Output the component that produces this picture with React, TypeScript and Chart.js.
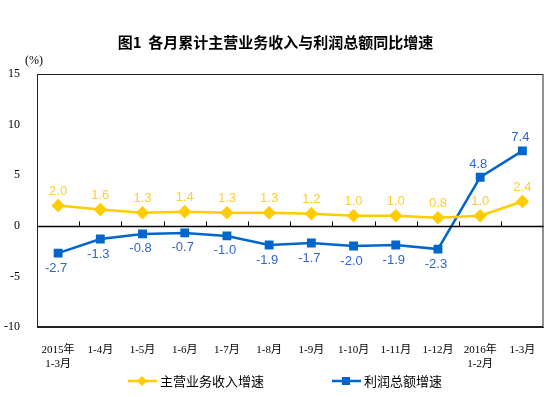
import React, { useEffect, useRef } from "react";
import { Chart, registerables } from "chart.js";

Chart.register(...registerables);

const categories: (string | string[])[] = [
  ["2015年", "1-3月"], "1-4月", "1-5月", "1-6月", "1-7月", "1-8月",
  "1-9月", "1-10月", "1-11月", "1-12月", ["2016年", "1-2月"], "1-3月",
];
const revenueGrowth = [2.0, 1.6, 1.3, 1.4, 1.3, 1.3, 1.2, 1.0, 1.0, 0.8, 1.0, 2.4];
const profitGrowth = [-2.7, -1.3, -0.8, -0.7, -1.0, -1.9, -1.7, -2.0, -1.9, -2.3, 4.8, 7.4];
const seriesNames = ["主营业务收入增速", "利润总额增速"];
const titleText = "图1  各月累计主营业务收入与利润总额同比增速";
const yUnit = "(%)";

const YELLOW = "#FFCC00";
const YELLOW_LABEL = "#FFCC33";
const BLUE = "#0066CC";
const BLUE_LABEL = "#3366CC";

const decorPlugin = {
  id: "decor",
  afterDraw(chart: any) {
    const ctx = chart.ctx as CanvasRenderingContext2D;
    const { left, right, top, bottom } = chart.chartArea;
    const x = chart.scales.x;
    const y = chart.scales.y;
    ctx.save();
    // frame
    ctx.strokeStyle = "#222";
    ctx.lineWidth = 1;
    ctx.strokeRect(left + 0.5, top + 0.5, right - left - 1, bottom - top - 1);
    // zero line
    const y0 = Math.round(y.getPixelForValue(0)) + 0.5;
    ctx.lineWidth = 1.5;
    ctx.strokeStyle = "#000";
    ctx.beginPath();
    ctx.moveTo(left, y0);
    ctx.lineTo(right, y0);
    ctx.stroke();
    // category ticks on zero line
    ctx.lineWidth = 1;
    const n = categories.length;
    for (let i = 1; i < n; i++) {
      const px = Math.round((x.getPixelForValue(i - 1) + x.getPixelForValue(i)) / 2) + 0.5;
      ctx.beginPath();
      ctx.moveTo(px, y0);
      ctx.lineTo(px, y0 - 5);
      ctx.stroke();
    }
    // title
    ctx.fillStyle = "#000";
    ctx.font = "bold 15px 'Noto Sans CJK SC'";
    ctx.textAlign = "center";
    ctx.textBaseline = "middle";
    ctx.fillText(titleText, chart.width / 2, 42);
    // unit
    ctx.font = "12px 'Liberation Serif'";
    ctx.fillText(yUnit, 34, 61);

    // data labels
    ctx.font = "13px 'Liberation Sans'";
    const m0 = chart.getDatasetMeta(0);
    const m1 = chart.getDatasetMeta(1);
    m0.data.forEach((p: any, i: number) => {
      ctx.fillStyle = YELLOW_LABEL;
      ctx.fillText(revenueGrowth[i].toFixed(1), p.x, p.y - 14);
    });
    m1.data.forEach((p: any, i: number) => {
      ctx.fillStyle = BLUE_LABEL;
      const v = profitGrowth[i];
      if (v >= 0) {
        ctx.fillText(v.toFixed(1), p.x - 2, p.y - 13);
      } else {
        ctx.fillText(v.toFixed(1), p.x - 2, p.y + 15);
      }
    });

    // legend
    const ly = 381;
    ctx.lineWidth = 2.5;
    ctx.strokeStyle = YELLOW;
    ctx.beginPath();
    ctx.moveTo(128, ly);
    ctx.lineTo(157, ly);
    ctx.stroke();
    ctx.fillStyle = YELLOW;
    ctx.beginPath();
    ctx.moveTo(142, ly - 5);
    ctx.lineTo(147, ly);
    ctx.lineTo(142, ly + 5);
    ctx.lineTo(137, ly);
    ctx.closePath();
    ctx.fill();
    ctx.strokeStyle = BLUE;
    ctx.beginPath();
    ctx.moveTo(332, ly);
    ctx.lineTo(361, ly);
    ctx.stroke();
    ctx.fillStyle = BLUE;
    ctx.fillRect(342, ly - 4, 8, 8);
    ctx.fillStyle = "#000";
    ctx.font = "13px 'Noto Sans CJK SC'";
    ctx.textAlign = "left";
    ctx.fillText(seriesNames[0], 160, ly);
    ctx.fillText(seriesNames[1], 364, ly);
    ctx.restore();
  },
};

export default function App() {
  const ref = useRef<HTMLCanvasElement | null>(null);
  useEffect(() => {
    if (!ref.current) return;
    const chart = new Chart(ref.current, {
      type: "line",
      data: {
        labels: categories as any,
        datasets: [
          {
            label: seriesNames[0],
            data: revenueGrowth,
            borderColor: YELLOW,
            backgroundColor: YELLOW,
            borderWidth: 2.5,
            pointStyle: "rectRot",
            pointRadius: 5,
            pointHoverRadius: 5,
            tension: 0,
          },
          {
            label: seriesNames[1],
            data: profitGrowth,
            borderColor: BLUE,
            backgroundColor: BLUE,
            borderWidth: 2.5,
            pointStyle: "rect",
            pointRadius: 4.5,
            pointHoverRadius: 4.5,
            tension: 0,
          },
        ],
      },
      options: {
        responsive: false,
        animation: false,
        events: [],
        layout: { padding: { top: 74, right: 7, left: 0, bottom: 0 } },
        plugins: {
          legend: { display: false },
          title: { display: false },
          tooltip: { enabled: false },
        },
        scales: {
          x: {
            offset: true,
            grid: { display: false },
            border: { display: true, color: "#222" },
            ticks: {
              color: "#000",
              font: { size: 11, family: "'Liberation Serif', 'Noto Sans CJK SC'" },
              padding: 9,
              maxRotation: 0,
              autoSkip: false,
            },
            afterFit(scale: any) {
              scale.height = 70;
            },
          },
          y: {
            min: -10,
            max: 15,
            grid: { display: false },
            border: { display: true, color: "#222" },
            ticks: {
              stepSize: 5,
              color: "#000",
              font: { size: 12, family: "'Liberation Serif'" },
              padding: 9,
            },
            afterFit(scale: any) {
              scale.width = 37;
            },
          },
        },
      },
      plugins: [decorPlugin],
    });
    return () => chart.destroy();
  }, []);
  return (
    <div style={{ position: "fixed", left: 0, top: 0, width: 551, height: 397, background: "#fff" }}>
      <canvas ref={ref} width={551} height={397} />
    </div>
  );
}
